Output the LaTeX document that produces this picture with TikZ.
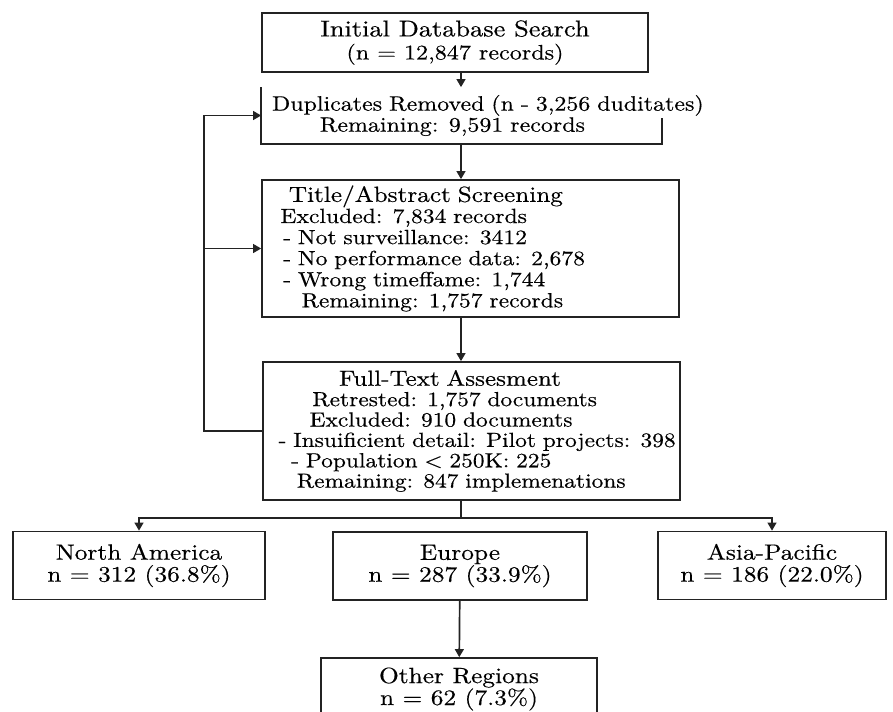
\documentclass[tikz,border=0pt]{standalone}
\usepackage{fontspec}
\setmainfont{lmroman10-regular.otf}[FakeStretch=1.15,FakeBold=0.4]
\usepackage{tikz}
\usetikzlibrary{arrows.meta,calc}
\definecolor{ink}{RGB}{35,35,35}
\newcommand{\hdsize}{\fontsize{15.6}{15}\selectfont}
\tikzset{
  >={Triangle[length=2mm,width=2.2mm]},
  stage/.style={draw=ink,line width=1.2pt,inner xsep=0.25cm,inner ysep=0pt,align=left,
    text width=#1,font=\fontsize{14.6}{15}\selectfont},
  stage/.default=9.925cm,
  region/.style={draw=ink,line width=1.2pt,align=center,minimum width=#1,
    minimum height=1.7cm,font=\fontsize{15.7}{15.6}\selectfont},
  region/.default=6.3cm,
  link/.style={->,draw=ink,line width=1.2pt},
  wire/.style={draw=ink,line width=1.2pt},
}

\begin{document}
\begin{tikzpicture}
  \useasboundingbox (0,0) rectangle (22.325,-17.775);
  \coordinate (spine) at (11.525,0);
  \coordinate (loop) at (5.1,0);
  % search and screening
  \node[draw=ink,line width=1.2pt,align=center,minimum width=9.65cm,minimum height=1.475cm,
    font=\fontsize{14.9}{16.4}\selectfont] (b1) at (11.375,-1.0625)
    {{\fontsize{16.3}{16.4}\selectfont Initial Database Search}\\(n = 12,847 records)};
  \node[stage=9.475cm,minimum height=1.375cm,draw=none,font=\fontsize{14.8}{15}\selectfont] (b2) at (11.5375,-2.8875)
    {\mbox{Duplicates Removed (n - 3,256 duditates)}\\\hspace*{34pt}Remaining: 9,591 records};
  \draw[wire] (b2.north west) -- (b2.south west) -- (b2.south east) -- ++(0,0.65);
  \node[stage,minimum height=3.425cm] (b3) at (11.7625,-6.2125)
    {\hspace*{12pt}{\hdsize Title/Abstract Screening}\\
     \hspace*{6pt}Excluded: 7,834 records\\
     \hspace*{8pt}- Not surveillance: 3412\\
     \hspace*{8pt}- No performance data: 2,678\\
     \hspace*{8pt}- Wrong timeffame: 1,744\\
     \hspace*{21pt}Remaining: 1,757 records};
  \node[stage,minimum height=3.45cm,font=\fontsize{14.5}{14.5}\selectfont] (b4) at (11.7875,-10.775)
    {\hspace*{47pt}{\fontsize{15.5}{14.5}\selectfont Full-Text Assesment}\\
     \hspace*{28pt}Retrested: 1,757 documents\\
     \hspace*{26pt}Excluded: 910 documents\\
     \hspace*{4pt}\mbox{- Insuificient detail: Pilot projects: 398}\\
     \hspace*{13pt}- Population \textless{} 250K: 225\\
     \hspace*{17pt}Remaining: 847 implemenations};
  \draw[link] (b1.south -| spine) -- (b2.north -| spine);
  \draw[link] (b2.south -| spine) -- (b3.north -| spine);
  \draw[link] (b3.south -| spine) -- (b4.north -| spine);
  % loop back on the left
  \draw[link] (b4.west) -- (b4.west -| loop) |- (b2.west);
  \draw[link] (b3.west -| loop) -- (b3.west);
  % regions
  \coordinate (split) at (11.525,-12.95);
  \node[region] (na) at (3.475,-14.1375) {North America\\n = 312 (36.8\%)};
  \node[region=6.35cm] (eu) at (11.5,-14.15) {Europe\\n = 287 (33.9\%)};
  \node[region=5.7cm] (ap) at (19.3,-14.1375) {Asia-Pacific\\n = 186 (22.0\%)};
  \node[region=6.9cm,minimum height=1.55cm] (ot) at (11.475,-17.225) {Other Regions\\n = 62 (7.3\%)};
  \draw[wire] (b4.south -| spine) -- (split);
  \draw[link] (split) -| (na.north);
  \draw[link] (split) -| (ap.north);
  \draw[link] (eu) -- (ot);
\end{tikzpicture}
\end{document}
